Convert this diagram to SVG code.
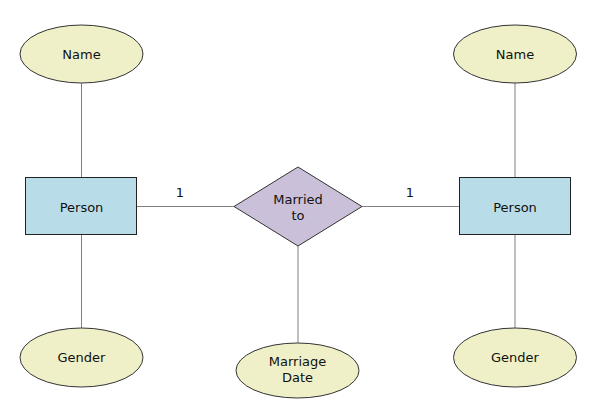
<svg xmlns="http://www.w3.org/2000/svg" width="589" height="418" viewBox="0 0 589 418">
<style>
.attr{fill:#eff0c8;stroke:#333;stroke-width:1}
.ent{fill:#b9dde8;stroke:#222;stroke-width:1}
.rel{fill:#cbc0da;stroke:#333;stroke-width:1}
.con line{stroke:#808080;stroke-width:1}
text{font-family:"DejaVu Sans",Verdana,sans-serif;font-size:13px;fill:#111;text-anchor:middle}
</style>
<rect width="589" height="418" fill="#fff"/>
<g class="con" id="connectors">
<line x1="81.5" y1="83" x2="81.5" y2="177"/>
<line x1="81.5" y1="235" x2="81.5" y2="328"/>
<line x1="515" y1="83" x2="515" y2="177"/>
<line x1="515" y1="235" x2="515" y2="328"/>
<line x1="137" y1="206.5" x2="234" y2="206.5"/>
<line x1="362" y1="206.5" x2="459" y2="206.5"/>
<line x1="298" y1="246" x2="298" y2="343"/>
<text x="180" y="197">1</text>
<text x="410" y="197">1</text>
</g>
<g id="name-left"><ellipse class="attr" cx="81.5" cy="54" rx="61.5" ry="29"/><text x="81.5" y="58.5">Name</text></g>
<g id="name-right"><ellipse class="attr" cx="515" cy="54" rx="61.5" ry="29"/><text x="515" y="58.5">Name</text></g>
<g id="person-left"><rect class="ent" x="25.5" y="177.5" width="111" height="57"/><text x="81.5" y="212">Person</text></g>
<g id="person-right"><rect class="ent" x="459.5" y="177.5" width="111" height="57"/><text x="515" y="212">Person</text></g>
<g id="gender-left"><ellipse class="attr" cx="81.5" cy="357.5" rx="61.5" ry="29.5"/><text x="81.5" y="362">Gender</text></g>
<g id="gender-right"><ellipse class="attr" cx="515" cy="357.5" rx="61.5" ry="29.5"/><text x="515" y="362">Gender</text></g>
<g id="married-to"><polygon class="rel" points="298,167 362,206.5 298,246 234,206.5"/><text x="298" y="204">Married</text><text x="298" y="220">to</text></g>
<g id="marriage-date"><ellipse class="attr" cx="297.5" cy="370.5" rx="61.5" ry="27.5"/><text x="297.5" y="366">Marriage</text><text x="297.5" y="382">Date</text></g>
</svg>
